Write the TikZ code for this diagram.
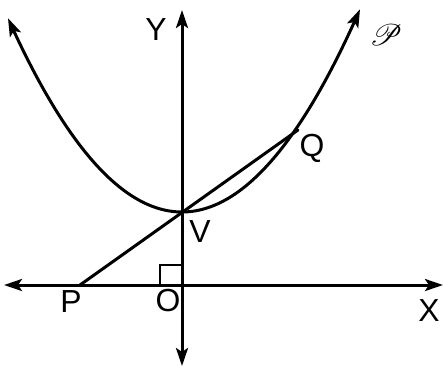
\documentclass[tikz,border=0pt]{standalone}
\usepackage{fontspec}
\setmainfont{Liberation Sans}
\usepackage{mathrsfs}
\usetikzlibrary{arrows.meta}
\tikzset{
  curveline/.style={line width=3bp, line cap=round},
  lbl/.style={font=\fontsize{32}{32}\selectfont, inner sep=0pt}
}
\begin{document}
\begin{tikzpicture}[x=1bp, y=-1bp, curveline,
  >={Stealth[length=18bp, width=12bp, inset=4bp]}]
\useasboundingbox (0,0) rectangle (443,372);
% points
\coordinate (O) at (182,285);
\coordinate (V) at (182,212);
\coordinate (P) at (80,285);
\coordinate (Q) at (298,130);
\coordinate (xl) at (4,285);
\coordinate (xr) at (443,285);
\coordinate (yt) at (182,10);
\coordinate (yb) at (182,366);
% axes
\draw[<->] (xl) -- (xr);
\draw[<->] (yb) -- (yt);
% right angle mark
\draw[line width=2bp] (O) ++(-22,0) -- ++(0,-20) -- ++(22,0);
% parabola
\draw[<->, shift={(V)}] plot[domain=-174:178, samples=60, smooth] (\x,{-(0.08*\x)*(0.08*\x)});
% chord P V Q
\draw (P) -- (Q);
% labels
\node[lbl] (Ylbl) at (156,30) {Y};
\node[lbl] (Xlbl) at (429,311) {X};
\node[lbl] (Olbl) at (168,301) {O};
\node[lbl] (Plbl) at (71,302) {P};
\node[lbl] (Vlbl) at (200,232) {V};
\node[lbl] (Qlbl) at (312,148) {Q};
\node[inner sep=0pt, scale=3] (curve) at (386,35) {$\mathscr{P}$};
\end{tikzpicture}
\end{document}
